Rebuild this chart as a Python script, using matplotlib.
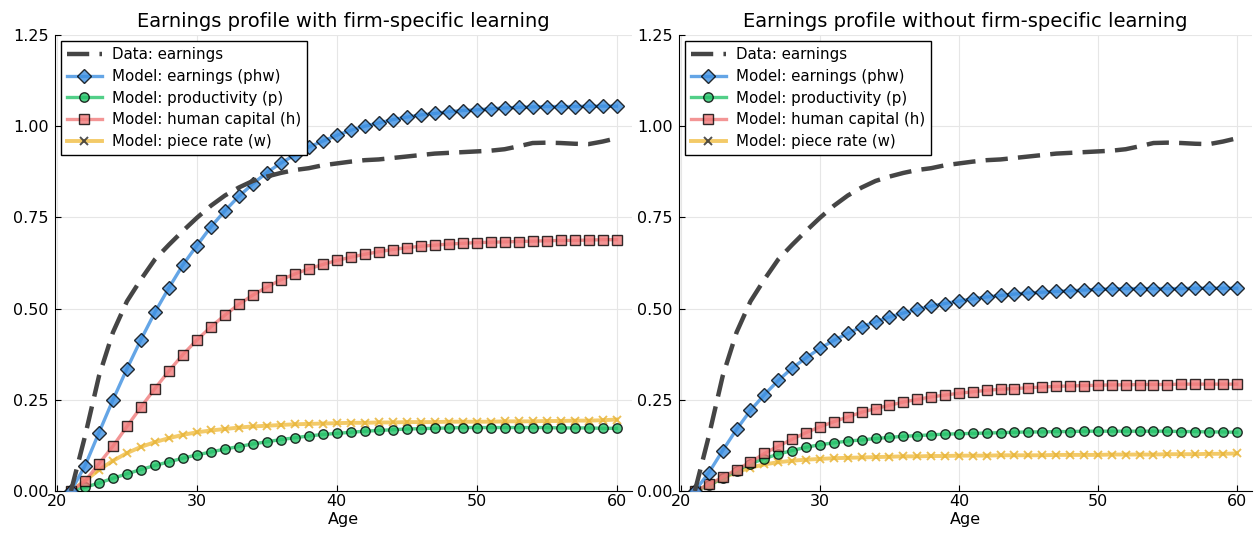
import numpy as np
import matplotlib.pyplot as plt
from matplotlib.lines import Line2D

ages = np.arange(21, 61)

# observed earnings profile (same in both panels)
data_earn = [0.0, 0.15, 0.315, 0.435, 0.52, 0.58, 0.635, 0.675, 0.713, 0.749,
             0.782, 0.81, 0.832, 0.85, 0.862, 0.872, 0.88, 0.885, 0.893, 0.898,
             0.903, 0.907, 0.909, 0.913, 0.917, 0.921, 0.925, 0.927, 0.929, 0.931,
             0.933, 0.937, 0.945, 0.954, 0.955, 0.954, 0.952, 0.951, 0.958, 0.967]

# model with firm-specific learning
phw_with = [0.0, 0.069, 0.16, 0.25, 0.335, 0.415, 0.49, 0.557, 0.62, 0.673,
            0.724, 0.768, 0.808, 0.842, 0.873, 0.899, 0.921, 0.943, 0.959, 0.975,
            0.989, 1.0, 1.009, 1.018, 1.025, 1.031, 1.035, 1.04, 1.043, 1.045,
            1.048, 1.05, 1.052, 1.053, 1.054, 1.054, 1.054, 1.055, 1.055, 1.055]
p_with = [0.0, 0.01, 0.022, 0.035, 0.047, 0.059, 0.07, 0.08, 0.09, 0.099,
          0.107, 0.115, 0.122, 0.129, 0.135, 0.141, 0.146, 0.151, 0.155, 0.158,
          0.161, 0.164, 0.166, 0.168, 0.17, 0.171, 0.172, 0.173, 0.174, 0.174,
          0.174, 0.174, 0.174, 0.174, 0.174, 0.173, 0.173, 0.173, 0.172, 0.172]
h_with = [0.0, 0.027, 0.075, 0.123, 0.177, 0.23, 0.281, 0.329, 0.374, 0.414,
          0.45, 0.482, 0.512, 0.537, 0.559, 0.579, 0.595, 0.609, 0.621, 0.632,
          0.641, 0.649, 0.656, 0.662, 0.667, 0.671, 0.674, 0.677, 0.679, 0.681,
          0.682, 0.683, 0.684, 0.685, 0.686, 0.687, 0.687, 0.688, 0.689, 0.689]
w_with = [0.0, 0.028, 0.058, 0.083, 0.104, 0.121, 0.134, 0.145, 0.154, 0.161,
          0.166, 0.17, 0.174, 0.177, 0.179, 0.181, 0.183, 0.184, 0.185, 0.186,
          0.187, 0.187, 0.188, 0.188, 0.189, 0.189, 0.189, 0.19, 0.19, 0.19,
          0.19, 0.191, 0.191, 0.191, 0.192, 0.192, 0.193, 0.193, 0.194, 0.196]

# model without firm-specific learning
phw_without = [0.0, 0.05, 0.111, 0.169, 0.221, 0.264, 0.303, 0.337, 0.365, 0.391,
               0.413, 0.432, 0.45, 0.464, 0.477, 0.488, 0.498, 0.507, 0.514, 0.521,
               0.527, 0.532, 0.536, 0.54, 0.543, 0.545, 0.547, 0.549, 0.551, 0.553,
               0.554, 0.555, 0.555, 0.555, 0.555, 0.555, 0.556, 0.556, 0.556, 0.556]
p_without = [0.0, 0.016, 0.035, 0.056, 0.075, 0.089, 0.101, 0.111, 0.12, 0.127,
             0.132, 0.137, 0.14, 0.144, 0.147, 0.15, 0.152, 0.154, 0.156, 0.157,
             0.158, 0.159, 0.16, 0.161, 0.162, 0.162, 0.163, 0.163, 0.164, 0.164,
             0.164, 0.164, 0.164, 0.164, 0.164, 0.163, 0.163, 0.162, 0.162, 0.161]
h_without = [0.0, 0.018, 0.038, 0.059, 0.079, 0.103, 0.123, 0.142, 0.16, 0.176,
             0.19, 0.203, 0.216, 0.226, 0.235, 0.244, 0.251, 0.258, 0.263, 0.268,
             0.272, 0.276, 0.279, 0.281, 0.283, 0.285, 0.287, 0.288, 0.289, 0.29,
             0.291, 0.291, 0.292, 0.292, 0.292, 0.293, 0.293, 0.293, 0.293, 0.293]
w_without = [0.0, 0.016, 0.035, 0.052, 0.064, 0.073, 0.079, 0.083, 0.086, 0.088,
             0.09, 0.091, 0.092, 0.093, 0.094, 0.095, 0.095, 0.096, 0.096, 0.097,
             0.097, 0.097, 0.098, 0.098, 0.098, 0.098, 0.099, 0.099, 0.099, 0.099,
             0.1, 0.1, 0.1, 0.1, 0.101, 0.101, 0.101, 0.102, 0.102, 0.103]

titles = ["Earnings profile with firm-specific learning",
          "Earnings profile without firm-specific learning"]
labels = ["Data: earnings", "Model: earnings (phw)", "Model: productivity (p)",
          "Model: human capital (h)", "Model: piece rate (w)"]

blue, green, red, yellow = "#3d8fe0", "#27c36a", "#f07b7b", "#f2c14e"
gray = "#454545"

# line/marker styles shared between plot and legend
st_data = dict(color=gray, lw=3.2, dashes=(5, 2.3))
st_phw = dict(color=blue, lw=2.4, alpha=0.8, marker='D', ms=7.2,
              mfc=blue, mec='black', mew=1.0)
st_p = dict(color=green, lw=2.4, alpha=0.8, marker='o', ms=6.8,
            mfc=green, mec='black', mew=1.0)
st_h = dict(color=red, lw=2.4, alpha=0.8, marker='s', ms=6.5,
            mfc=red, mec='black', mew=1.0)
st_w = dict(color=yellow, lw=2.8, alpha=0.85, marker='x', ms=6.3, mew=1.4)

plt.rcParams['font.family'] = ['DejaVu Sans']
fig = plt.figure(figsize=(12.54, 5.35), dpi=100)
ax1 = fig.add_axes([0.0439, 0.0822, 0.4600, 0.8523])
ax2 = fig.add_axes([0.5415, 0.0822, 0.4570, 0.8523])

panels = [(ax1, phw_with, p_with, h_with, w_with),
          (ax2, phw_without, p_without, h_without, w_without)]

for i, (ax, phw, p, h, w) in enumerate(panels):
    ax.plot(ages, data_earn, zorder=5, **st_data)
    ax.plot(ages, phw, zorder=4, **st_phw)
    ax.plot(ages, p, zorder=3, **st_p)
    ax.plot(ages, h, zorder=3, **st_h)
    ax.plot(ages, w, mec="#e8b53a", zorder=2, **st_w)

    ax.set_xlim(19.86, 61.1)
    ax.set_ylim(0, 1.25)
    ax.set_xticks([20, 30, 40, 50, 60])
    ax.set_yticks([0, 0.25, 0.5, 0.75, 1.0, 1.25])
    ax.set_yticklabels(["0.00", "0.25", "0.50", "0.75", "1.00", "1.25"])
    ax.grid(True, color="#e6e6e6", lw=0.8)
    ax.set_axisbelow(True)
    for s in ["top", "right"]:
        ax.spines[s].set_visible(False)
    ax.tick_params(direction='in', length=4, labelsize=11.5)
    ax.tick_params(axis='y', pad=4.5)
    ax.tick_params(axis='x', pad=2.5)
    ax.set_title(titles[i], fontsize=14, pad=6)
    ax.set_xlabel("Age", fontsize=11.5, labelpad=2)

    handles = [Line2D([], [], **st_data), Line2D([], [], **st_phw),
               Line2D([], [], **st_p), Line2D([], [], **st_h),
               Line2D([], [], mec='#333333', **st_w)]
    leg = ax.legend(handles, labels, loc='upper left', fontsize=10.8,
                    labelspacing=0.45, handlelength=2.3, handletextpad=0.7,
                    borderaxespad=0.4, fancybox=False, framealpha=1,
                    edgecolor='black')
    leg.get_frame().set_linewidth(1.0)

fig.savefig("out.png", dpi=100)
